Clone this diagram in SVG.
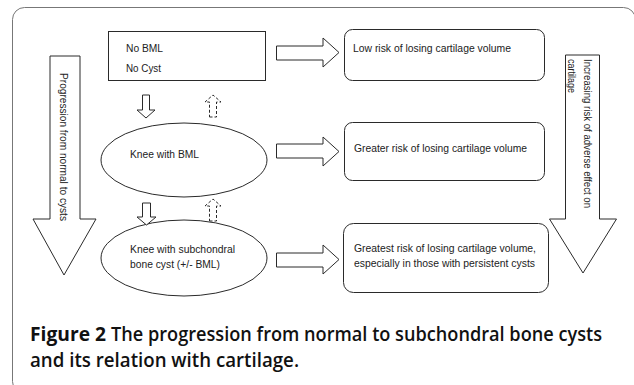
<svg xmlns="http://www.w3.org/2000/svg" width="634" height="385" viewBox="0 0 634 385">
<style>
.ln{fill:#fff;stroke:#2a2a2a;stroke-width:1}
.ds{fill:#fff;stroke:#2a2a2a;stroke-width:1;stroke-dasharray:3,2}
.t{font-family:"Liberation Sans",Arial,sans-serif;font-size:10px;fill:#222}
.cap{font-family:"Open Sans","Liberation Sans",sans-serif;font-size:19px;fill:#111}
</style>
<defs>
<clipPath id="rc"><rect x="566.5" y="50" width="33" height="170"/></clipPath>
</defs>
<rect x="12.5" y="7.5" width="623" height="386" rx="12" fill="#fff" stroke="#777" stroke-width="1"/>

<g id="left-arrow">
<polygon class="ln" points="50,56 80,56 80,219 96,219 64,275 33,219 50,219"/>
<text class="t" transform="translate(60,73) rotate(90)" textLength="148" lengthAdjust="spacingAndGlyphs">Progression from normal to cysts</text>
</g>

<g id="right-arrow">
<polygon class="ln" points="565.5,55 599.5,55 599.5,219 616.5,219 583,273 549.5,219 565.5,219"/>
<text class="t" transform="translate(584,59) rotate(90)" textLength="149" lengthAdjust="spacingAndGlyphs">Increasing risk of adverse effect on</text>
<g clip-path="url(#rc)"><text class="t" transform="translate(568,59) rotate(90)" textLength="34" lengthAdjust="spacingAndGlyphs">cartilage</text></g>
</g>

<g id="no-bml">
<rect class="ln" x="108.5" y="31.5" width="157" height="49"/>
<text class="t" x="126" y="52" textLength="37" lengthAdjust="spacingAndGlyphs">No BML</text>
<text class="t" x="126" y="72" textLength="35" lengthAdjust="spacingAndGlyphs">No Cyst</text>
</g>

<g id="knee-bml">
<ellipse class="ln" cx="184" cy="160" rx="83" ry="37"/>
<text class="t" x="130" y="158" textLength="69" lengthAdjust="spacingAndGlyphs">Knee with BML</text>
</g>

<g id="knee-cyst">
<ellipse class="ln" cx="184" cy="258" rx="83" ry="38"/>
<text class="t" x="130" y="253" textLength="105" lengthAdjust="spacingAndGlyphs">Knee with subchondral</text>
<text class="t" x="130" y="268" textLength="90" lengthAdjust="spacingAndGlyphs">bone cyst (+/- BML)</text>
</g>

<g id="low-risk">
<rect class="ln" x="344.5" y="29.5" width="200" height="51" rx="8"/>
<text class="t" x="353" y="52" textLength="158" lengthAdjust="spacingAndGlyphs">Low risk of losing cartilage volume</text>
</g>

<g id="greater-risk">
<rect class="ln" x="344.5" y="122.5" width="200" height="58" rx="8"/>
<text class="t" x="354" y="152" textLength="173" lengthAdjust="spacingAndGlyphs">Greater risk of losing cartilage volume</text>
</g>

<g id="greatest-risk">
<rect class="ln" x="343.5" y="223.5" width="205" height="69" rx="10"/>
<text class="t" x="354" y="252" textLength="182" lengthAdjust="spacingAndGlyphs">Greatest risk of losing cartilage volume,</text>
<text class="t" x="354" y="267" textLength="181" lengthAdjust="spacingAndGlyphs">especially in those with persistent cysts</text>
</g>

<g id="connectors">
<polygon class="ln" points="276.5,46 323,46 323,38 339,52.5 323,67 323,60 276.5,60"/>
<polygon class="ln" points="276.5,144 323,144 323,137 339,151.5 323,166 323,158 276.5,158"/>
<polygon class="ln" points="276.5,253 323,253 323,245 339,259.5 323,274 323,267 276.5,267"/>
<polygon class="ln" points="142.5,95 149.5,95 149.5,110 155,110 146,118 137,110 142.5,110"/>
<polygon class="ln" points="142.5,203 150.5,203 150.5,217 156,217 146.5,225 137,217 142.5,217"/>
<polygon class="ds" points="209.5,117 216.5,117 216.5,102 221,102 213,95 205,102 209.5,102"/>
<polygon class="ds" points="209.5,221 216.5,221 216.5,206 221,206 213,199 205,206 209.5,206"/>
</g>

<g id="caption">
<text class="cap" x="30" y="341" font-weight="700" textLength="76" lengthAdjust="spacingAndGlyphs">Figure 2</text>
<text class="cap" x="111" y="341" font-weight="600" textLength="491" lengthAdjust="spacingAndGlyphs">The progression from normal to subchondral bone cysts</text>
<text class="cap" x="30" y="367" font-weight="600" textLength="269" lengthAdjust="spacingAndGlyphs">and its relation with cartilage.</text>
</g>
</svg>
